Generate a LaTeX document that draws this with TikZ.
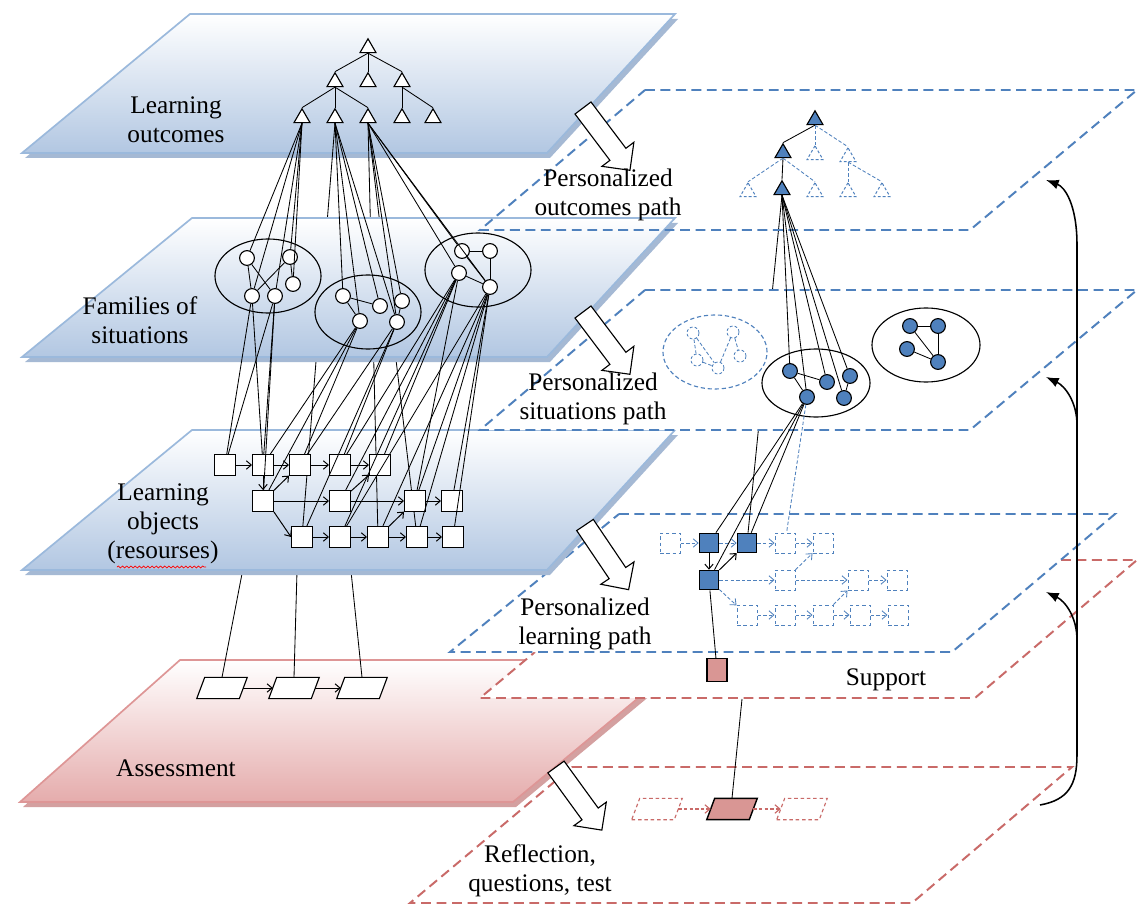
\documentclass[tikz,border=0pt]{standalone}
\usepackage{fontspec}
\setmainfont{Liberation Serif}
\usetikzlibrary{calc,shapes.geometric,arrows,arrows.meta,decorations.pathmorphing}

\definecolor{accblue}{RGB}{79,129,189}
\definecolor{accred}{RGB}{192,80,77}
\definecolor{slabblue}{RGB}{178,199,226}
\definecolor{slabline}{RGB}{155,185,220}
\definecolor{slabshade}{RGB}{165,185,212}
\definecolor{slabpink}{RGB}{229,172,172}
\definecolor{pinkline}{RGB}{222,150,150}
\definecolor{pinkshade}{RGB}{212,160,160}
\definecolor{nodepink}{RGB}{217,150,148}

\pgfdeclarelayer{pinkslab}
\pgfdeclarelayer{lowplanes}
\pgfdeclarelayer{hidlow}
\pgfdeclarelayer{slabs}
\pgfdeclarelayer{hidmid}
\pgfdeclarelayer{midslab}
\pgfsetlayers{pinkslab,lowplanes,hidlow,slabs,hidmid,midslab,main}

% slanted item box: name, x, y, style
\newcommand{\parnode}[4]{%
  \node[inner sep=0pt, minimum width=1.05cm, minimum height=0.52cm] (#1) at (#2,#3) {};
  \filldraw[#4] ($(#1.south west)+(-4,0)$) -- ($(#1.south east)+(-4,0)$)
    -- ($(#1.north east)+(4,0)$) -- ($(#1.north west)+(4,0)$) -- cycle;}

\begin{document}
\begin{tikzpicture}[x=0.025cm, y=-0.025cm, >={Straight Barb[length=3.5pt,width=6pt]},
font=\fontsize{18}{20.5}\selectfont,
lbl/.style={align=center, inner sep=0pt},
slab/.style={draw=slabline, line width=1.2pt, top color=white, bottom color=slabblue},
pslab/.style={draw=pinkline, line width=1.2pt, top color=white, bottom color=slabpink},
planeb/.style={draw=accblue, line width=1.4pt, dash pattern=on 7pt off 4pt},
planer/.style={draw=accred!85!white, line width=1.4pt, dash pattern=on 7pt off 4pt},
tri/.style={regular polygon, regular polygon sides=3, draw, fill=white, line width=0.8pt, minimum size=0.46cm, inner sep=0pt},
btri/.style={tri, fill=accblue},
dtri/.style={tri, draw=accblue, fill=none, dash pattern=on 2pt off 1.5pt, line width=0.7pt},
circ/.style={circle, draw, fill=white, line width=0.8pt, minimum size=0.37cm, inner sep=0pt},
bcirc/.style={circ, fill=accblue},
dcirc/.style={circle, draw=accblue, dash pattern=on 2pt off 1.5pt, line width=0.6pt, minimum size=0.3cm, inner sep=0pt},
fam/.style={ellipse, draw, line width=0.8pt, minimum width=2.65cm, minimum height=1.85cm},
sq/.style={rectangle, draw, fill=white, line width=0.8pt, minimum size=0.52cm, inner sep=0pt},
bsq/.style={sq, fill=accblue, line width=1pt, minimum size=0.48cm},
dsq/.style={rectangle, draw=accblue, dash pattern=on 2.5pt off 2pt, line width=0.7pt, minimum size=0.5cm, inner sep=0pt},
para/.style={draw, fill=white, line width=0.8pt},
ppara/.style={draw, fill=nodepink, line width=1pt},
dpara/.style={draw=accred!85!white, fill=none, dash pattern=on 2.5pt off 2pt, line width=0.8pt},
link/.style={line width=0.6pt},
dlink/.style={draw=accblue, dash pattern=on 2.5pt off 1.5pt, line width=0.6pt},
flow/.style={->, line width=0.7pt},
dflow/.style={->, draw=accblue, dash pattern=on 2.5pt off 1.5pt, line width=0.6pt},
rflow/.style={->, draw=accred!85!white, dash pattern=on 2.5pt off 1.5pt, line width=0.8pt},
back/.style={line width=1.1pt},
backtip/.style={back, -{Latex[length=9pt,width=7pt]}},
bigarrow/.pic={\draw[line width=0.8pt, fill=white] (0,-10) -- (58,-10) -- (58,-20) -- (78,0) -- (58,20) -- (58,10) -- (0,10) -- cycle;}
]
\useasboundingbox (0,0) rectangle (1140,906);

% assessment slab
\begin{pgfonlayer}{pinkslab}
\fill[white] (0,0) rectangle (1140,906);
\fill[pinkshade, shift={(3,5)}] (180,660) -- (684,660) -- (513,802) -- (20,802) -- cycle;
\filldraw[pslab] (180,660) -- (684,660) -- (513,802) -- (20,802) -- cycle;
\end{pgfonlayer}

% dashed planes of the personal path
\begin{pgfonlayer}{lowplanes}
\fill[white] (646,560) -- (1137,560) -- (975,698) -- (480,698) -- cycle;
\draw[planer] (1061,560) -- (1137,560) -- (975,698) -- (480,698) -- (535,652);
\filldraw[planeb, fill=white] (619,514) -- (1115,514) -- (952,652) -- (450,652) -- cycle;
\draw[planer] (572,767) -- (1072,767) -- (912,903) -- (410,903) -- cycle;
\end{pgfonlayer}

\begin{pgfonlayer}{slabs}
\fill[slabshade, shift={(3,5)}] (190,14) -- (675,14) -- (547,153) -- (22,153) -- cycle;
\filldraw[slab] (190,14) -- (675,14) -- (547,153) -- (22,153) -- cycle;
\fill[slabshade, shift={(3,5)}] (192,430) -- (675,430) -- (547,570) -- (22,570) -- cycle;
\filldraw[slab] (192,430) -- (675,430) -- (547,570) -- (22,570) -- cycle;
\end{pgfonlayer}

\begin{pgfonlayer}{midslab}
\fill[slabshade, shift={(3,5)}] (192,218) -- (675,218) -- (547,357) -- (22,357) -- cycle;
\filldraw[slab] (192,218) -- (675,218) -- (547,357) -- (22,357) -- cycle;
\fill[white] (645,290) -- (1137,290) -- (970,430) -- (480,430) -- cycle;
\end{pgfonlayer}

\draw[planeb] (645,90) -- (1137,90) -- (970,230) -- (480,230) -- cycle;
\draw[planeb] (645,290) -- (1137,290) -- (970,430) -- (480,430) -- cycle;

% outcomes tree
\foreach \n/\x/\y in {t0/368/48, t1/335/82, t2/368/82, t3/402/82, t4/302/118,
  t5/335/118, t6/368/118, t7/402/118, t8/433/118}
  \node[tri] (\n) at (\x,\y) {};
\foreach \a/\b in {t0/t1, t0/t2, t0/t3, t1/t4, t1/t5, t1/t6, t3/t7, t3/t8}
  \draw[link] (\a.south) -- (\b.north);

% families of situations
\node[fam] (E1) at (268,276) {};
\node[fam] (E2) at (368,312) {};
\node[fam] (E3) at (478,270) {};
\foreach \n/\x/\y in {a1/247/258, a2/290/257, a3/293/284, a4/252/296, a5/275/296,
  b1/343/296, b2/380/306, b3/402/301, b4/360/321, b5/397/322,
  c1/462/251, c2/490/251, c3/459/273, c4/490/287}
  \node[circ] (\n) at (\x,\y) {};
\foreach \a/\b in {a1/a4, a1/a5, a2/a4, a2/a3, b1/b4, b1/b2, b3/b5, c1/c2, c2/c4, c3/c4, c1/c4}
  \draw[link] (\a) -- (\b);

% learning objects
\foreach \n/\x/\y in {s1/225/465, s2/263/465, s3/300/465, s4/340/465, s5/380/465,
  s6/263/501, s7/340/501, s8/415/501, s9/452/501,
  s10/302/537, s11/340/537, s12/378/537, s13/417/537, s14/453/537}
  \node[sq] (\n) at (\x,\y) {};

% assessment items
\parnode{pa1}{222}{688}{para}
\parnode{pa2}{294}{688}{para}
\parnode{pa3}{362}{688}{para}
\draw[flow] (pa1) -- (pa2);
\draw[flow] (pa2) -- (pa3);

% links passing behind the slabs
\begin{pgfonlayer}{hidlow}
\foreach \a/\b in {s2/pa1, s3/pa2, s4/pa3}
  \draw[link] (\a) -- (\b.north);
\end{pgfonlayer}
\begin{pgfonlayer}{hidmid}
\foreach \a/\b in {t5/s10, t6/s12, t6/s13}
  \draw[link] (\a.south) -- (\b);
\end{pgfonlayer}

\foreach \a/\b in {t4/a1, t4/a2, t4/a3, t4/a4, t4/a5, t5/b1, t5/b4, t5/b2, t5/b5,
  t6/b3, t6/c1, t6/c3, t6/c4, t6/b5}
  \draw[link] (\a.south) -- (\b);
\foreach \a/\b in {a4/s1, a4/s2, a5/s1, a5/s2, a5/s6, b4/s2, b4/s3, b5/s3, b5/s4,
  b5/s10, b4/s6, c3/s4, c3/s7, c3/s11, c3/s5, c3/s8, c4/s8, c4/s9, c4/s12,
  c4/s13, c4/s14, c4/s11}
  \draw[link] (\a) -- (\b);
\foreach \a/\b in {s1/s2, s2/s3, s3/s4, s4/s5, s6/s7, s7/s8, s8/s9, s10/s11,
  s11/s12, s12/s13, s13/s14, s2/s6, s6/s3, s7/s5, s12/s8}
  \draw[flow] (\a) -- (\b);
\draw[flow] (s6.south east) -- (s10.west);

% personalized outcomes
\foreach \n/\s/\x/\y in {u0/btri/815/120, u1/btri/783/153, u2/dtri/815/155,
  u3/dtri/848/157, u4/dtri/748/192, u5/btri/782/190, u6/dtri/815/192,
  u7/dtri/848/192, u8/dtri/882/192}
  \node[\s] (\n) at (\x,\y) {};
\draw[link] (u0.south) -- (u1.north);
\draw[link] (u1.south) -- (u5.north);
\foreach \a/\b in {u0/u2, u0/u3, u1/u4, u1/u6, u3/u7, u3/u8}
  \draw[dlink] (\a.south) -- (\b.north);

% personalized situations
\node[fam, draw=accblue, dash pattern=on 3pt off 2pt, minimum width=2.6cm] (D) at (715,352) {};
\foreach \n/\x/\y in {d1/693/333, d2/733/332, d3/697/360, d4/740/356, d5/718/368}
  \node[dcirc] (\n) at (\x,\y) {};
\foreach \a/\b in {d1/d3, d2/d5, d3/d5, d1/d5, d2/d4}
  \draw[dlink] (\a) -- (\b);
\node[fam, minimum height=1.7cm, minimum width=2.7cm] (F) at (816,383) {};
\node[fam, minimum width=2.7cm] (G) at (926,345) {};
\foreach \n/\x/\y in {f1/790/371, f2/827/382, f3/850/376, f4/807/397, f5/844/398,
  g1/910/326, g2/938/326, g3/907/349, g4/938/362}
  \node[bcirc] (\n) at (\x,\y) {};
\foreach \a/\b in {f1/f4, f1/f2, f3/f5, g1/g2, g2/g4, g3/g4, g1/g4}
  \draw[link] (\a) -- (\b);
\foreach \b in {f1, f2, f3, f4, f5}
  \draw[link] (u5.south) -- (\b);

% personalized learning path
\foreach \n/\x/\y in {q1/709/543, q2/747/543, q3/709/580}
  \node[bsq] (\n) at (\x,\y) {};
\foreach \n/\x/\y in {r1/670/543, r2/785/543, r3/823/543, r4/785/580, r5/858/580,
  r6/897/580, r7/747/615, r8/785/615, r9/823/615, r10/860/615, r11/898/615}
  \node[dsq] (\n) at (\x,\y) {};
\begin{pgfonlayer}{hidmid}
\draw[link] (u5.south) -- (q2);
\end{pgfonlayer}
\foreach \b in {q1, q2, q3}
  \draw[link] (f4) -- (\b);
\draw[dlink] (f4) -- (r2);
\foreach \a/\b in {r1/q1, q1/q2, q2/r2, r2/r3, q3/r4, r4/r5, r5/r6, q3/r7, r7/r8,
  r8/r9, r9/r10, r10/r11, r4/r3, r9/r5}
  \draw[dflow] (\a) -- (\b);
\draw[flow] (q1) -- (q3);
\draw[flow] (q3) -- (q2);

% support and reflection
\node[sq, fill=nodepink, minimum width=0.5cm, minimum height=0.58cm] (p1) at (717,670) {};
\draw[link] (q3) -- (p1);
\coordinate (pk) at (742,699);
\parnode{m1}{657}{809}{dpara}
\parnode{m2}{732}{809}{ppara}
\parnode{m3}{802}{809}{dpara}
\draw[link] (pk) -- (m2.north);
\draw[rflow] (m1) -- (m2);
\draw[rflow] (m2) -- (m3);

% feedback loop
\coordinate (fb0) at (1040,805);
\coordinate (fb1) at (1046,180);
\coordinate (fb2) at (1077,425);
\coordinate (fb3) at (1046,377);
\coordinate (fb4) at (1077,640);
\coordinate (fb5) at (1046,592);
\draw[backtip] (fb0) .. controls (1068,800) and (1077,785) .. (1077,755)
  -- (1077,245) .. controls (1077,205) and (1065,187) .. (fb1);
\draw[backtip] (fb2) .. controls (1077,402) and (1065,386) .. (fb3);
\draw[backtip] (fb4) .. controls (1077,617) and (1065,601) .. (fb5);

% block arrows
\pic[rotate=-53] at (583,108) {bigarrow};
\pic[rotate=-53] at (583,312) {bigarrow};
\pic[rotate=-56] at (585,525) {bigarrow};
\pic[rotate=-54] at (556,767) {bigarrow};

% labels
\node[lbl] (lo) at (176,120) {Learning\\outcomes};
\node[lbl] (fs) at (140,320) {Families of\\situations};
\node[lbl] (ob) at (163,524) {Learning\\objects\\(resourses)};
\draw[red, line width=0.5pt, decorate, decoration={snake, amplitude=0.7pt, segment length=3pt}]
  (117,567) -- (206,567);
\node[lbl] (as) at (176,768) {Assessment};
\node[lbl] (po) at (608,195) {Personalized\\outcomes path};
\node[lbl] (ps) at (593,399) {Personalized\\situations path};
\node[lbl] (pl) at (585,624) {Personalized\\learning path};
\node[lbl] (su) at (886,680) {Support};
\node[lbl] (rq) at (540,871) {Reflection,\\questions, test};
\end{tikzpicture}
\end{document}
